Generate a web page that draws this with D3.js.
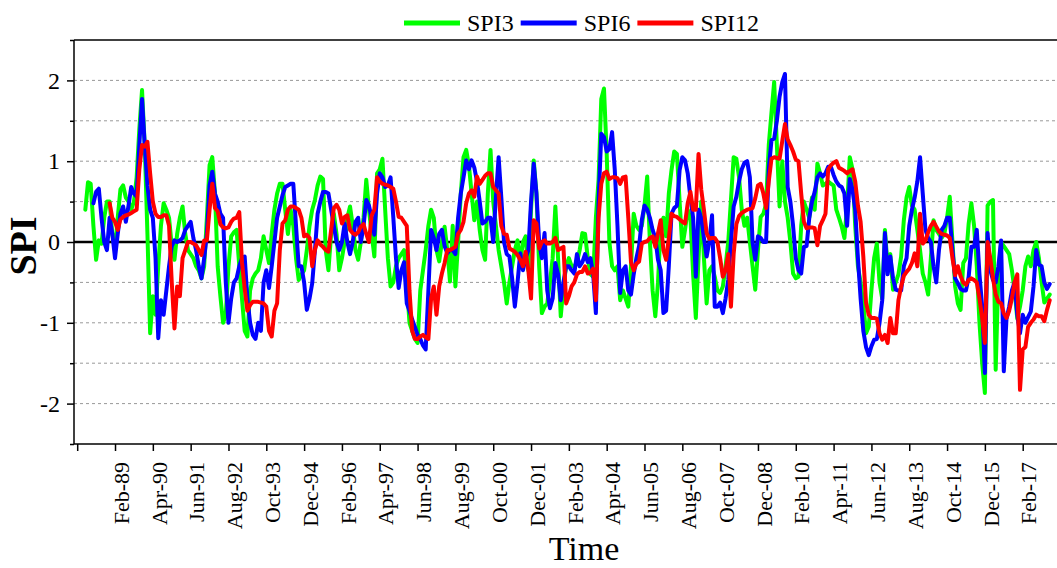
<!DOCTYPE html>
<html>
<head>
<meta charset="utf-8">
<script src="https://cdn.jsdelivr.net/npm/d3@7"></script>
<style>
    body { margin: 0; background: #fff; }
    svg { display: block; }
    svg text { font-family: "Liberation Serif", "Times New Roman", serif; fill: #000; }
</style>
</head>
<body>
<div class="spi-container"></div>
<script>
// x ticks every 14 months, first one has no label in the original
const tickLabels = ["Dec-87", "Feb-89", "Apr-90", "Jun-91", "Aug-92", "Oct-93", "Dec-94", "Feb-96",
    "Apr-97", "Jun-98", "Aug-99", "Oct-00", "Dec-01", "Feb-03", "Apr-04", "Jun-05", "Aug-06",
    "Oct-07", "Dec-08", "Feb-10", "Apr-11", "Jun-12", "Aug-13", "Oct-14", "Dec-15", "Feb-17"];

const yTicks = [-2, -1, 0, 1, 2];
const yMinor = [-2.5, -1.5, -0.5, 0.5, 1.5, 2.5];
const gridValues = [-2, -1.5, -1, -0.5, 0.5, 1, 1.5, 2];

// monthly values, first month of each series below
const spi3Start = "Mar-88";
const spi3 = [
    0.40, 0.74, 0.72, 0.20, -0.22, 0.02, -0.02, 0.30, 0.50, 0.50,
    0.10, -0.10, 0.30, 0.65, 0.70, 0.55, 0.50, 0.40, 0.50, 0.80, 1.40, 1.88,
    1.20, 0.10, -1.13, -0.67, -0.90, -0.30, 0.20, 0.48, 0.40, 0.30, -0.05, -0.22,
    0.10, 0.30, 0.44, 0.10, -0.10, -0.15, -0.20, -0.30, -0.35, -0.45, -0.30, 0.30,
    0.95, 1.05, 0.60, -0.30, -0.67, -1.00, -0.90, -0.30, 0.07, 0.12, 0.15, -0.30,
    -0.70, -1.10, -1.17, -0.60, -0.45, -0.39, -0.35, -0.20, 0.07, -0.10, -0.26, 0.10,
    0.40, 0.60, 0.72, 0.72, 0.40, 0.10, 0.40, 0.20, -0.20, -0.47, -0.40, -0.35,
    -0.10, 0.20, 0.40, 0.52, 0.70, 0.81, 0.78, -0.10, -0.35, 0.10, 0.35, 0.10,
    -0.35, -0.20, 0.00, 0.30, 0.44, 0.20, -0.10, -0.22, 0.00, 0.30, 0.77, 0.40,
    0.10, -0.18, 0.85, 0.90, 1.03, 0.40, -0.20, -0.55, -0.50, -0.30, -0.20, -0.15,
    -0.10, -0.50, -1.00, -1.10, -1.20, -1.25, -0.60, -0.35, -0.10, 0.20, 0.40, 0.30,
    -0.10, -0.24, 0.00, 0.19, -0.10, -0.49, 0.20, -0.55, 0.00, 0.60, 1.05, 1.14,
    0.95, 0.60, 0.27, 0.50, 0.15, -0.10, -0.22, 0.60, 1.14, 0.50, 0.20, -0.10,
    -0.30, -0.50, -0.76, -0.50, -0.30, -0.10, 0.02, -0.26, 0.00, 0.07, -0.35, 0.40,
    1.01, 0.60, -0.30, -0.88, -0.80, -0.76, -0.50, -0.20, 0.44, -0.20, -0.92, -0.55,
    -0.30, -0.20, -0.30, -0.30, -0.25, -0.10, 0.11, 0.10, -0.20, -0.40, -0.43, 0.30,
    0.77, 1.77, 1.90, 1.10, 0.00, -0.30, -0.35, -0.30, -0.72, -0.60, -0.70, -0.80,
    -0.30, 0.35, 0.20, 0.15, 0.20, 0.45, 0.81, 0.00, -0.60, -0.92, -0.50, 0.20,
    0.30, 0.07, 0.60, 0.89, 1.12, 1.09, 0.50, -0.06, 0.15, 0.40, 0.30, -0.40,
    -0.94, -0.20, 0.50, -0.20, -0.76, -0.35, -0.30, -0.43, -0.60, -0.63, -0.55, -0.30,
    0.00, 0.52, 1.05, 1.03, 0.80, 0.40, 0.20, 0.30, 0.00, -0.30, -0.59, -0.10,
    0.31, 0.35, 0.47, 1.20, 1.60, 1.98, 1.20, 0.44, 1.00, 0.50, 0.30, 0.00,
    -0.39, -0.45, -0.43, 0.20, 0.50, 0.40, 0.30, 0.55, 0.40, 0.97, 0.85, 0.70,
    0.72, 0.75, 0.72, 0.70, 0.40, 0.30, 0.19, 0.05, 0.45, 1.05, 0.90, 0.20,
    -0.30, -0.50, -0.76, -1.13, -1.05, -0.60, -0.20, -0.02, -0.50, -0.70, 0.15, -0.30,
    -0.15, -0.59, -0.50, -0.40, -0.18, 0.27, 0.55, 0.68, 0.45, 0.40, 0.15, -0.10,
    -0.39, -0.50, -0.65, -0.20, 0.27, 0.15, 0.10, 0.05, 0.10, 0.30, 0.56, 0.00,
    -0.55, -0.76, -0.84, -0.26, -0.20, 0.23, 0.48, 0.20, -0.30, -1.00, -1.50, -1.87,
    0.45, 0.50, 0.52, -1.58, -0.40, 0.00, -0.05, -0.10, -0.15, -0.35, -0.60, -0.95,
    -0.80, -0.60, -0.30, -0.18, -0.30, -0.10, 0.00, -0.20, -0.50, -0.75, -0.70, -0.65
];

const spi6Start = "Jun-88";
const spi6 = [
    0.48, 0.62, 0.66, 0.30, 0.00, -0.10, 0.30,
    0.10, -0.20, 0.10, 0.35, 0.44, 0.25, 0.45, 0.68, 0.60, 0.56, 1.20, 1.77,
    1.20, 0.70, 0.40, 0.30, -0.20, -1.19, -0.72, -0.90, -0.60, -0.30, -0.05, 0.02,
    0.00, 0.02, 0.05, 0.15, 0.20, 0.25, 0.05, -0.10, -0.30, -0.45, -0.20, 0.10,
    0.70, 0.87, 0.60, 0.50, 0.35, 0.30, -0.50, -1.00, -0.70, -0.50, -0.45, -0.30,
    -0.20, -0.18, -0.70, -1.00, -1.15, -1.20, -1.00, -1.10, -0.50, -0.35, -0.57, -0.30,
    0.00, 0.30, 0.44, 0.58, 0.68, 0.70, 0.72, 0.72, 0.20, -0.30, -0.30, -0.50,
    -0.84, -0.70, -0.51, -0.10, 0.35, 0.50, 0.62, 0.62, 0.60, 0.40, 0.20, 0.00,
    -0.10, 0.00, 0.23, 0.00, -0.15, 0.00, 0.25, 0.30, 0.00, 0.20, 0.52, 0.45,
    0.30, 0.09, 0.60, 0.85, 0.80, 0.68, 0.70, 0.80, 0.31, -0.20, -0.57, -0.35,
    -0.25, -0.76, -0.85, -0.96, -1.05, -1.15, -1.20, -1.28, -1.33, -0.60, 0.15, 0.05,
    -0.10, 0.10, 0.15, -0.05, -0.14, -0.10, -0.10, -0.15, 0.30, 0.60, 0.80, 1.01,
    0.90, 1.01, 0.92, 0.75, 0.50, 0.23, 0.25, 0.30, 0.30, 0.00, 0.56, 1.05,
    0.55, 0.00, -0.15, -0.18, -0.45, -0.80, -0.50, -0.14, -0.35, -0.20, -0.10, 0.50,
    0.97, 0.60, 0.00, -0.20, 0.11, -0.60, -0.82, -0.70, -0.26, -0.40, -0.72, -0.50,
    -0.30, -0.30, -0.35, -0.39, -0.15, -0.30, -0.25, -0.15, -0.25, -0.20, -0.40, -0.88,
    0.50, 1.34, 1.30, 1.12, 1.15, 1.36, 0.89, 0.20, -0.63, -0.35, -0.30, -0.60,
    -0.65, -0.40, -0.20, -0.05, 0.27, 0.45, 0.40, 0.30, 0.15, 0.05, -0.22, -0.35,
    -0.88, -0.85, -0.30, 0.35, 0.42, 0.45, 0.89, 1.05, 1.01, 0.85, 0.55, 0.30,
    -0.43, 0.40, 0.30, 0.05, -0.18, 0.00, 0.33, -0.80, -0.80, -0.75, -0.88, -0.70,
    -0.47, 0.00, 0.44, 0.56, 0.75, 0.90, 0.98, 1.00, 0.80, 0.00, -0.22, 0.07,
    0.05, 0.00, 0.00, 0.90, 1.26, 1.28, 1.50, 1.80, 1.98, 2.08, 0.68, 0.50,
    0.20, -0.20, -0.35, -0.39, -0.06, -0.05, 0.30, 0.50, 0.62, 0.80, 0.85, 0.81,
    0.85, 0.93, 0.93, 0.83, 0.75, 0.70, 0.68, 0.60, 0.20, 0.78, 0.65, 0.40,
    -0.20, -0.70, -1.10, -1.30, -1.40, -1.29, -1.21, -1.20, -1.00, -0.72, 0.11, -0.40,
    -0.18, -0.45, -0.59, -0.60, -0.60, -0.30, -0.20, 0.20, 0.40, 0.55, 0.75, 1.05,
    0.60, 0.15, 0.05, 0.00, -0.30, -0.50, -0.10, 0.15, 0.20, 0.30, 0.30, -0.10,
    -0.45, -0.51, -0.58, -0.60, -0.60, -0.43, -0.06, -0.06, 0.15, -0.40, -0.80, -1.62,
    0.11, -0.35, -0.47, -0.50, -0.30, 0.02, -1.60, -0.95, -0.80, -0.60, -0.50, -0.90,
    -1.13, -0.90, -1.00, -0.93, -0.86, -0.55, -0.10, -0.28, -0.30, -0.50, -0.58, -0.52
];

const spi12Start = "Dec-88";
const spi12 = [
    0.48,
    0.30, 0.25, 0.15, 0.28, 0.31, 0.33, 0.34, 0.36, 0.38, 0.40, 0.90, 1.20,
    1.18, 1.24, 0.85, 0.50, 0.35, 0.31, 0.31, 0.33, 0.33, 0.20, -0.50, -1.07,
    -0.55, -0.67, -0.20, -0.10, 0.00, 0.00, -0.02, -0.04, -0.10, -0.16, 0.02, 0.02,
    0.40, 0.72, 0.42, 0.38, 0.22, 0.18, 0.17, 0.18, 0.25, 0.29, 0.30, 0.37,
    -0.25, -0.58, -0.85, -0.78, -0.74, -0.74, -0.74, -0.75, -0.76, -0.80, -1.10, -1.17,
    -0.85, -0.76, -0.10, 0.23, 0.27, 0.40, 0.44, 0.44, 0.42, 0.40, 0.30, 0.07,
    0.09, 0.05, -0.30, -0.10, 0.02, -0.03, -0.06, -0.10, -0.12, 0.15, 0.42, 0.46,
    0.40, 0.23, 0.31, 0.33, 0.15, 0.11, 0.09, 0.12, 0.19, 0.22, 0.10, 0.00,
    0.33, 0.40, 0.80, 0.75, 0.72, 0.71, 0.70, 0.68, 0.66, 0.50, 0.31, 0.30,
    0.25, 0.20, -0.60, -1.10, -1.20, -1.20, -1.17, -1.15, -1.18, -1.20, -0.70, -0.55,
    -0.90, -0.55, -0.39, -0.26, -0.10, -0.10, -0.08, -0.06, 0.10, 0.15, 0.25, 0.48,
    0.60, 0.64, 0.56, 0.81, 0.72, 0.77, 0.82, 0.85, 0.85, 0.68, 0.64, 0.60,
    0.20, 0.10, 0.09, -0.08, -0.10, -0.12, -0.16, -0.22, -0.30, -0.12, -0.35, -0.70,
    0.27, 0.23, -0.08, 0.00, 0.02, -0.02, -0.02, 0.00, 0.05, -0.10, -0.08, -0.06,
    -0.76, -0.67, -0.55, -0.50, -0.40, -0.37, -0.37, -0.30, -0.39, -0.38, -0.33, -0.72,
    0.30, 0.72, 0.85, 0.87, 0.78, 0.80, 0.80, 0.79, 0.72, 0.80, 0.81, 0.30,
    -0.25, -0.35, -0.27, -0.24, -0.02, 0.00, 0.01, 0.05, 0.07, -0.06, 0.11, 0.27,
    -0.10, -0.22, 0.05, 0.35, 0.32, 0.31, 0.28, 0.25, 0.23, 0.48, 0.62, 0.40,
    0.40, 1.09, 0.65, 0.40, 0.11, 0.04, 0.05, 0.05, 0.00, -0.20, -0.43, -0.35,
    -0.15, -0.80, -0.15, 0.22, 0.32, 0.36, 0.38, 0.40, 0.41, 0.42, 0.54, 0.70,
    0.72, 0.60, 0.42, 0.75, 1.03, 1.05, 1.04, 1.03, 1.25, 1.46, 1.27, 1.20,
    1.12, 1.02, 1.00, 0.60, 0.25, 0.17, 0.18, 0.18, 0.17, -0.04, 0.20, 0.27,
    0.35, 0.90, 0.95, 0.98, 1.00, 0.92, 0.90, 0.88, 0.85, 0.88, 0.90, 0.75,
    0.45, 0.25, -0.18, -0.75, -0.90, -0.94, -0.94, -0.95, -1.13, -1.21, -1.15, -1.25,
    -0.94, -1.13, -1.13, -0.72, -0.55, -0.42, -0.37, -0.33, -0.26, -0.14, -0.30, 0.35,
    -0.02, 0.02, 0.12, 0.20, 0.25, 0.19, 0.13, 0.10, 0.09, 0.08, 0.05, -0.20,
    -0.41, -0.30, -0.42, -0.50, -0.53, -0.47, -0.45, -0.47, -0.50, -0.70, -0.94, -1.25,
    0.00, -0.20, -0.45, -0.65, -0.74, -0.76, -0.88, -0.94, -0.85, -0.70, -0.50, -0.40,
    -1.83, -1.33, -1.30, -1.05, -1.00, -0.96, -0.90, -0.92, -0.92, -0.98, -0.84, -0.72
];

const seriesNames = ["SPI3", "SPI6", "SPI12"];
const seriesColors = ["#00ff00", "#0000ff", "#ff0000"];

const serif = "'Liberation Serif', 'Times New Roman', serif";

const renderChart = () => {
    const width = 1057;
    const height = 568;
    const left = 74;
    const top = 40;
    const bottom = 444;

    const parseMonth = d3.timeParse("%b-%y");
    // months counted from Dec-87
    const monthIndex = label => {
        const d = parseMonth(label);
        return (d.getFullYear() - 1987) * 12 + d.getMonth() - 11;
    };

    const toPoints = (start, values) => {
        const first = monthIndex(start);
        return values.map((v, i) => ({ m: first + i, v: v }));
    };

    const series = [
        toPoints(spi3Start, spi3),
        toPoints(spi6Start, spi6),
        toPoints(spi12Start, spi12)
    ];

    const tickValues = tickLabels.map(monthIndex);

    const x = d3.scaleLinear()
        .domain([0, 350])
        .range([77.2, 1022.7]);

    const y = d3.scaleLinear()
        .domain([-2.5, 2.5])
        .range([bottom, top]);

    const svg = d3.select(".spi-container")
        .append("svg")
        .attr("width", width)
        .attr("height", height);

    // dotted grid
    svg.append("g")
        .selectAll("line")
        .data(gridValues)
        .enter()
        .append("line")
        .attr("x1", left)
        .attr("x2", width)
        .attr("y1", d => y(d))
        .attr("y2", d => y(d))
        .attr("stroke", "#999")
        .attr("stroke-width", 1)
        .attr("stroke-dasharray", "3,3");

    // zero line
    svg.append("line")
        .attr("x1", left)
        .attr("x2", width)
        .attr("y1", y(0))
        .attr("y2", y(0))
        .attr("stroke", "#000")
        .attr("stroke-width", 2.5);

    // top frame
    svg.append("line")
        .attr("x1", left)
        .attr("x2", width)
        .attr("y1", top)
        .attr("y2", top)
        .attr("stroke", "#000")
        .attr("stroke-width", 1.5);

    const line = d3.line()
        .x(d => x(d.m))
        .y(d => y(d.v));

    svg.append("g")
        .selectAll("path")
        .data(series)
        .enter()
        .append("path")
        .attr("d", line)
        .attr("fill", "none")
        .attr("stroke", (d, i) => seriesColors[i])
        .attr("stroke-width", 4)
        .attr("stroke-linejoin", "round")
        .attr("stroke-linecap", "round");

    // x axis
    const xAxis = svg.append("g")
        .attr("transform", `translate(0,${bottom})`)
        .call(d3.axisBottom(x)
            .tickValues(tickValues)
            .tickSize(7)
            .tickFormat((d, i) => i === 0 ? "" : tickLabels[i]));

    xAxis.attr("font-family", serif).attr("font-size", 22);
    xAxis.select(".domain")
        .attr("d", `M${left},0H${width}`)
        .attr("stroke-width", 1.5);
    xAxis.selectAll(".tick line").attr("stroke-width", 1.5);
    xAxis.selectAll("text")
        .attr("transform", "rotate(-90)")
        .attr("x", -18)
        .attr("y", 0)
        .attr("dy", "0.6em")
        .attr("text-anchor", "end")
        .attr("fill", "#000");

    // y axis, major and minor ticks
    const yAxis = svg.append("g")
        .attr("transform", `translate(${left},0)`)
        .call(d3.axisLeft(y)
            .tickValues(yTicks)
            .tickSize(7)
            .tickPadding(7)
            .tickFormat(d => String(d)));

    yAxis.attr("font-family", serif).attr("font-size", 24);
    yAxis.select(".domain")
        .attr("d", `M0,${top}V${bottom}`)
        .attr("stroke-width", 1.5);
    yAxis.selectAll(".tick line").attr("stroke-width", 1.5);
    yAxis.selectAll("text").attr("fill", "#000");

    const yMinorAxis = svg.append("g")
        .attr("transform", `translate(${left},0)`)
        .call(d3.axisLeft(y)
            .tickValues(yMinor)
            .tickSize(4)
            .tickFormat(""));
    yMinorAxis.select(".domain").remove();
    yMinorAxis.selectAll(".tick line").attr("stroke-width", 1.5);

    // axis titles
    svg.append("text")
        .attr("transform", "translate(36,246) rotate(-90)")
        .attr("text-anchor", "middle")
        .attr("font-family", serif)
        .attr("font-size", 38)
        .attr("font-weight", "bold")
        .text("SPI");

    svg.append("text")
        .attr("x", 584)
        .attr("y", 560)
        .attr("text-anchor", "middle")
        .attr("font-family", serif)
        .attr("font-size", 34)
        .text("Time");

    // legend
    const legend = svg.append("g").attr("class", "legend");
    let lx = 404;
    seriesNames.forEach((name, i) => {
        legend.append("line")
            .attr("x1", lx)
            .attr("x2", lx + 56)
            .attr("y1", 23)
            .attr("y2", 23)
            .attr("stroke", seriesColors[i])
            .attr("stroke-width", 5);
        const label = legend.append("text")
            .attr("x", lx + 63)
            .attr("y", 31)
            .attr("font-family", serif)
            .attr("font-size", 24)
            .text(name);
        lx += 63 + label.node().getComputedTextLength() + 7;
    });
};

renderChart();
</script>
</body>
</html>
